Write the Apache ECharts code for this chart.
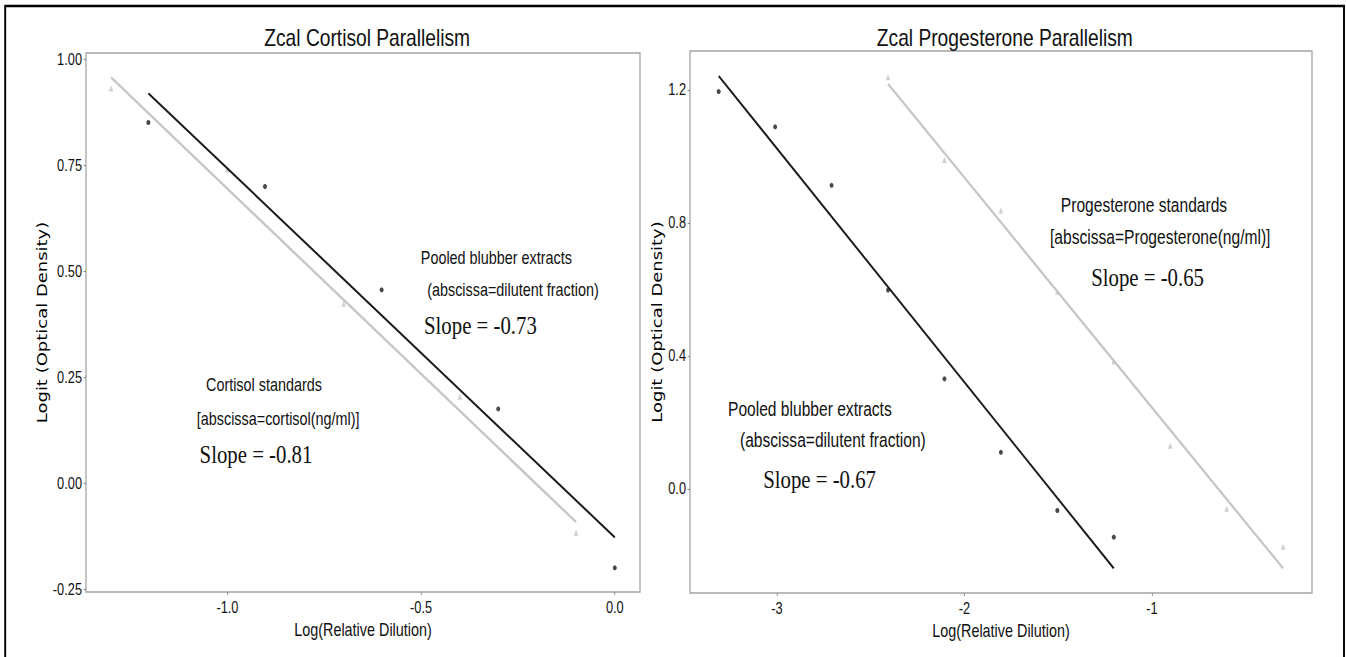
<!DOCTYPE html>
<html>
<head>
<meta charset="utf-8">
<title>Zcal Parallelism</title>
<script src="https://cdn.jsdelivr.net/npm/echarts@6/dist/echarts.min.js"></script>
<style>
  html, body { margin: 0; padding: 0; background: #fff; }
  #wrap { position: absolute; left: 0; top: 0; width: 1346px; height: 657px; overflow: hidden; background: #fff; }
  /* the figure is laid out wide and narrowed horizontally, giving the condensed lettering */
  #chart { width: 1683px; height: 657px; transform: scaleX(0.8); transform-origin: 0 0; }
</style>
</head>
<body>
<div id="wrap"><div id="chart"></div></div>
<script>
// ---- Cortisol panel ----
const cortisolStdX  = [-1.3, -1.0, -0.7, -0.4, -0.1];
const cortisolStdY  = [0.931, 0.740, 0.423, 0.204, -0.117];
const cortisolPoolX = [-1.204, -0.903, -0.602, -0.301, 0.0];
const cortisolPoolY = [0.851, 0.700, 0.456, 0.175, -0.200];
const cortisolStdFit  = [[-1.3, 0.957], [-0.1, -0.092]];
const cortisolPoolFit = [[-1.204, 0.920], [0.0, -0.128]];
const cortisolXTicks = [-1.0, -0.5, 0.0];
const cortisolYTicks = [-0.25, 0.0, 0.25, 0.5, 0.75, 1.0];

// ---- Progesterone panel ----
const progStdX  = [-2.408, -2.107, -1.806, -1.505, -1.204, -0.903, -0.602, -0.301];
const progStdY  = [1.238, 0.989, 0.837, 0.593, 0.383, 0.130, -0.060, -0.174];
const progPoolX = [-3.311, -3.010, -2.709, -2.408, -2.107, -1.806, -1.505, -1.204];
const progPoolY = [1.195, 1.089, 0.913, 0.598, 0.331, 0.110, -0.065, -0.145];
const progStdFit  = [[-2.408, 1.218], [-0.301, -0.239]];
const progPoolFit = [[-3.311, 1.242], [-1.204, -0.239]];
const progXTicks = [-3, -2, -1];
const progYTicks = [0.0, 0.4, 0.8, 1.2];

const titles = ['Zcal Cortisol Parallelism', 'Zcal Progesterone Parallelism'];
const xTitle = 'Log(Relative Dilution)';
const yTitle = 'Logit (Optical Density)';

const pairs = (xs, ys) => xs.map((x, i) => [x, ys[i]]);

const SANS = '"Liberation Sans", Arial, sans-serif';
const SERIF = '"Liberation Serif", "Times New Roman", serif';
const INK = '#111';
const STD_GREY = '#c6c6c6';

function xAxisCfg(grid, min, max, ticks, digits, gap) {
  return {
    gridIndex: grid, type: 'value', min: min, max: max,
    axisLine: { show: false, onZero: false },
    splitLine: { show: false },
    axisTick: { show: true, length: 3, customValues: ticks, lineStyle: { color: '#8c8c8c', width: 1.2 } },
    axisLabel: { customValues: ticks, formatter: v => v.toFixed(digits), fontSize: 16, color: INK, margin: 7, fontFamily: SANS },
    name: xTitle, nameLocation: 'middle', nameGap: gap,
    nameTextStyle: { fontSize: 18, color: INK, fontFamily: SANS }
  };
}
function yAxisCfg(grid, min, max, ticks, digits, gap) {
  return {
    gridIndex: grid, type: 'value', min: min, max: max,
    axisLine: { show: false, onZero: false },
    splitLine: { show: false },
    axisTick: { show: true, length: 3, customValues: ticks, lineStyle: { color: '#8c8c8c', width: 1.2 } },
    axisLabel: { customValues: ticks, formatter: v => v.toFixed(digits), fontSize: 16, color: INK, margin: 5, fontFamily: SANS },
    name: yTitle, nameLocation: 'middle', nameGap: gap, nameRotate: 90,
    nameTextStyle: { fontSize: 18, color: '#000', fontFamily: '"DejaVu Sans", sans-serif' }
  };
}

function note(x, y, text, size, family) {
  return { type: 'text', x: x, y: y, silent: true,
    style: { text: text, fill: INK, font: size + 'px ' + family, verticalAlign: 'middle', align: 'left' } };
}

const chart = echarts.init(document.getElementById('chart'), null, { renderer: 'svg' });
chart.setOption({
  backgroundColor: '#fff',
  animation: false,
  title: [
    { text: titles[0], left: 454, top: 21, textAlign: 'center',
      textStyle: { fontSize: 24, fontWeight: 'normal', color: INK, fontFamily: SANS } },
    { text: titles[1], left: 1251, top: 21, textAlign: 'center',
      textStyle: { fontSize: 24, fontWeight: 'normal', color: INK, fontFamily: SANS } }
  ],
  grid: [
    { left: 107.5, top: 53, width: 692.5, height: 539, show: true, borderColor: '#a4a4a4', borderWidth: 1.6, backgroundColor: '#fff' },
    { left: 862.5, top: 51, width: 777.5, height: 542, show: true, borderColor: '#a4a4a4', borderWidth: 1.6, backgroundColor: '#fff' }
  ],
  xAxis: [
    xAxisCfg(0, -1.365, 0.065, cortisolXTicks, 1, 28),
    xAxisCfg(1, -3.464, -0.147, progXTicks, 0, 28)
  ],
  yAxis: [
    yAxisCfg(0, -0.257, 1.015, cortisolYTicks, 2, 40),
    yAxisCfg(1, -0.313, 1.317, progYTicks, 1, 32)
  ],
  series: [
    { name: 'Cortisol standards fit', type: 'line', xAxisIndex: 0, yAxisIndex: 0, data: cortisolStdFit,
      showSymbol: false, lineStyle: { color: STD_GREY, width: 2.6 }, z: 2 },
    { name: 'Cortisol pooled fit', type: 'line', xAxisIndex: 0, yAxisIndex: 0, data: cortisolPoolFit,
      showSymbol: false, lineStyle: { color: '#1a1a1a', width: 2.2 }, z: 3 },
    { name: 'Cortisol standards', type: 'scatter', xAxisIndex: 0, yAxisIndex: 0, data: pairs(cortisolStdX, cortisolStdY),
      symbol: 'triangle', symbolSize: 6, itemStyle: { color: STD_GREY }, z: 1 },
    { name: 'Cortisol pooled extracts', type: 'scatter', xAxisIndex: 0, yAxisIndex: 0, data: pairs(cortisolPoolX, cortisolPoolY),
      symbol: 'circle', symbolSize: 5, itemStyle: { color: '#1a1a1a' }, z: 4 },

    { name: 'Progesterone standards fit', type: 'line', xAxisIndex: 1, yAxisIndex: 1, data: progStdFit,
      showSymbol: false, lineStyle: { color: STD_GREY, width: 2.6 }, z: 2 },
    { name: 'Progesterone pooled fit', type: 'line', xAxisIndex: 1, yAxisIndex: 1, data: progPoolFit,
      showSymbol: false, lineStyle: { color: '#1a1a1a', width: 2.2 }, z: 3 },
    { name: 'Progesterone standards', type: 'scatter', xAxisIndex: 1, yAxisIndex: 1, data: pairs(progStdX, progStdY),
      symbol: 'triangle', symbolSize: 6, itemStyle: { color: STD_GREY }, z: 1 },
    { name: 'Progesterone pooled extracts', type: 'scatter', xAxisIndex: 1, yAxisIndex: 1, data: pairs(progPoolX, progPoolY),
      symbol: 'circle', symbolSize: 5, itemStyle: { color: '#1a1a1a' }, z: 4 }
  ],
  graphic: [
    // outer frame
    { type: 'rect', silent: true, z: 100,
      shape: { x: 6.5, y: 6, width: 1673.5, height: 670 },
      style: { fill: 'none', stroke: '#000', lineWidth: 2.4 } },
    // cortisol panel notes
    note(526, 257, 'Pooled blubber extracts', 18, SANS),
    note(534, 289, '(abscissa=dilutent fraction)', 18, SANS),
    note(530, 325, 'Slope = -0.73', 26, SERIF),
    note(257.5, 384, 'Cortisol standards', 18, SANS),
    note(246, 418, '[abscissa=cortisol(ng/ml)]', 18, SANS),
    note(249.5, 454, 'Slope = -0.81', 26, SERIF),
    // progesterone panel notes
    note(1326, 205, 'Progesterone standards', 19.5, SANS),
    note(1312.5, 237, '[abscissa=Progesterone(ng/ml)]', 19.5, SANS),
    note(1364, 277, 'Slope = -0.65', 26, SERIF),
    note(910, 409, 'Pooled blubber extracts', 19.5, SANS),
    note(925, 440, '(abscissa=dilutent fraction)', 19.5, SANS),
    note(954, 479, 'Slope = -0.67', 26, SERIF)
  ]
});
</script>
</body>
</html>
